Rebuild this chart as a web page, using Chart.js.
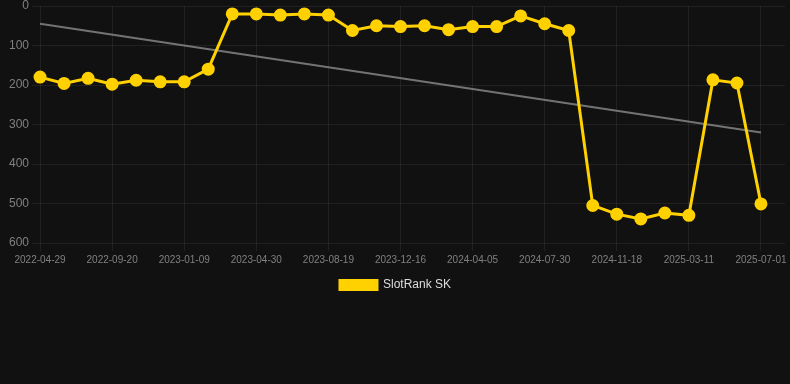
<!DOCTYPE html>
<html>
<head>
<meta charset="utf-8">
<script src="https://cdn.jsdelivr.net/npm/chart.js@4/dist/chart.umd.min.js"></script>
<style>
  html, body { margin: 0; padding: 0; background: #111111; }
  #wrap { width: 790px; height: 301px; position: relative; }
</style>
</head>
<body>
<div id="wrap"><canvas id="myChart"></canvas></div>
<script>
// dates, one per point; the last one has no value (keeps room on the right)
const labels = [
  '2022-04-29', '2022-06-15', '2022-08-02', '2022-09-20', '2022-10-27', '2022-12-03',
  '2023-01-09', '2023-02-15', '2023-03-24', '2023-04-30', '2023-06-06', '2023-07-13',
  '2023-08-19', '2023-09-28', '2023-11-07', '2023-12-16', '2024-01-22', '2024-02-28',
  '2024-04-05', '2024-05-14', '2024-06-21', '2024-07-30', '2024-09-05', '2024-10-12',
  '2024-11-18', '2024-12-26', '2025-02-01', '2025-03-11', '2025-04-17', '2025-05-24',
  '2025-07-01', '2025-08-07'
];
const rankValues = [
  180, 196, 183, 198, 188, 192, 192, 160, 20, 20, 23, 20,
  23, 62, 50, 52, 50, 60, 52, 52, 25, 45, 62, 505,
  527, 539, 524, 530, 187, 195, 501
];
const trendStart = 45;
const trendEnd = 320;
const yTicks = [0, 100, 200, 300, 400, 500, 600];

const gold = '#FFD100';
var ctx = document.getElementById('myChart').getContext('2d');

function shownTick(i) {
    return i % 3 === 0 && i < rankValues.length;
}

let chart = new Chart(ctx, {
    type: 'line',
    data: {
        labels: labels,
        datasets: [{
            label: 'SlotRank SK',
            data: rankValues,
            borderColor: gold,
            backgroundColor: gold,
            pointBackgroundColor: gold,
            pointBorderColor: gold,
            borderWidth: 3,
            pointRadius: 5,
            tension: 0
        }, {
            label: 'trend',
            data: [
                { x: labels[0], y: trendStart },
                { x: labels[rankValues.length - 1], y: trendEnd }
            ],
            borderColor: 'rgba(140, 140, 140, 0.8)',
            borderWidth: 2,
            pointRadius: 0,
            fill: false
        }]
    },
    options: {
        responsive: true,
        maintainAspectRatio: false,
        animation: false,
        layout: {
            autoPadding: false,
            padding: { left: 6, right: 5 }
        },
        plugins: {
            legend: {
                position: 'bottom',
                labels: {
                    color: '#dddddd',
                    boxWidth: 37,
                    boxHeight: 9,
                    font: { size: 12, family: 'Liberation Sans, Arial, sans-serif' },
                    filter: item => item.datasetIndex === 0
                }
            },
            tooltip: { enabled: false }
        },
        scales: {
            x: {
                ticks: {
                    autoSkip: false,
                    maxRotation: 0,
                    color: '#808080',
                    font: { size: 10, family: 'Liberation Sans, Arial, sans-serif' },
                    callback: function(value, index) {
                        return shownTick(index) ? labels[index] : '';
                    }
                },
                grid: {
                    color: c => shownTick(c.index) ? 'rgba(255, 255, 255, 0.07)' : 'rgba(0, 0, 0, 0)'
                },
                border: { display: false }
            },
            y: {
                reverse: true,
                min: yTicks[0],
                max: yTicks[yTicks.length - 1],
                ticks: {
                    stepSize: 100,
                    color: '#808080',
                    font: { size: 12, lineHeight: 0.5, family: 'Liberation Sans, Arial, sans-serif' }
                },
                grid: {
                    color: 'rgba(255, 255, 255, 0.07)'
                },
                border: { display: false }
            }
        }
    }
});
</script>
</body>
</html>
